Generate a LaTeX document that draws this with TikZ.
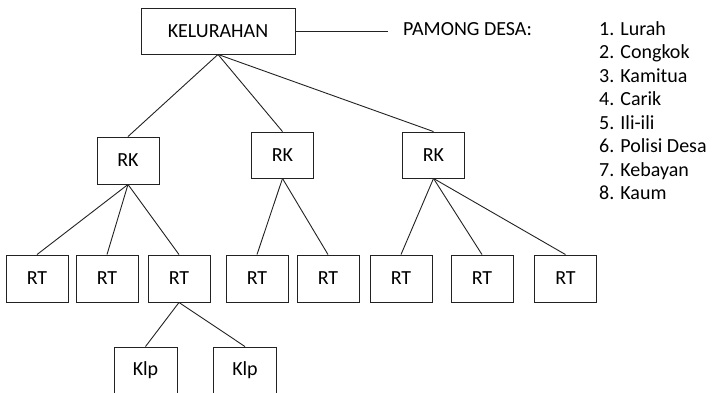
\documentclass[tikz,border=0pt]{standalone}
\usepackage{fontspec}
\setmainfont{Carlito}
\usepackage{tikz}
\usetikzlibrary{positioning}
\definecolor{linegray}{HTML}{222222}

\begin{document}
\begin{tikzpicture}[x=1pt,y=-1pt,font=\fontsize{20}{24}\selectfont,
  box/.style={draw=linegray,line width=0.9pt,minimum width=62pt,minimum height=47pt,inner sep=0pt},
  link/.style={draw=linegray,line width=0.9pt}]
  \clip (0,0) rectangle (713,392);
  \node[box,minimum width=154pt,minimum height=46pt] (kel) at (218,31) {KELURAHAN};
  \coordinate (pjoin) at (388,31);
  \node[anchor=base west,inner sep=0pt] (pamong) at (403,35.5) {PAMONG DESA:};
  \draw[link] (kel.east) -- (pjoin);
  \foreach \i/\t in {1/Lurah,2/Congkok,3/Kamitua,4/Carik,5/Ili-ili,6/Polisi Desa,7/Kebayan,8/Kaum}
    \node[anchor=base west,inner sep=0pt] (item\i) at (599,35+\i*23.5-23.5) {\i. \t};
  \node[box] (rk1) at (128,160.5) {RK};
  \node[box,minimum height=46pt] (rk2) at (282.5,155) {RK};
  \node[box,minimum height=46pt] (rk3) at (433.5,155) {RK};
  \foreach \n/\x in {1/37,2/107,3/179,4/257,5/328,6/401,7/482,8/565.5}
    \node[box] (rt\n) at (\x,278.5) {RT};
  \node[box,minimum width=63pt] (klp1) at (145.5,370.5) {Klp};
  \node[box,minimum width=63pt] (klp2) at (245,370.5) {Klp};
  \foreach \c in {rk1,rk2,rk3}
    \draw[link] (kel.south) -- (\c.north);
  \foreach \p/\c in {rk1/rt1,rk1/rt2,rk1/rt3,rk2/rt4,rk2/rt5,rk3/rt6,rk3/rt7,rk3/rt8,rt3/klp1,rt3/klp2}
    \draw[link] (\p.south) -- (\c.north);
\end{tikzpicture}
\end{document}
